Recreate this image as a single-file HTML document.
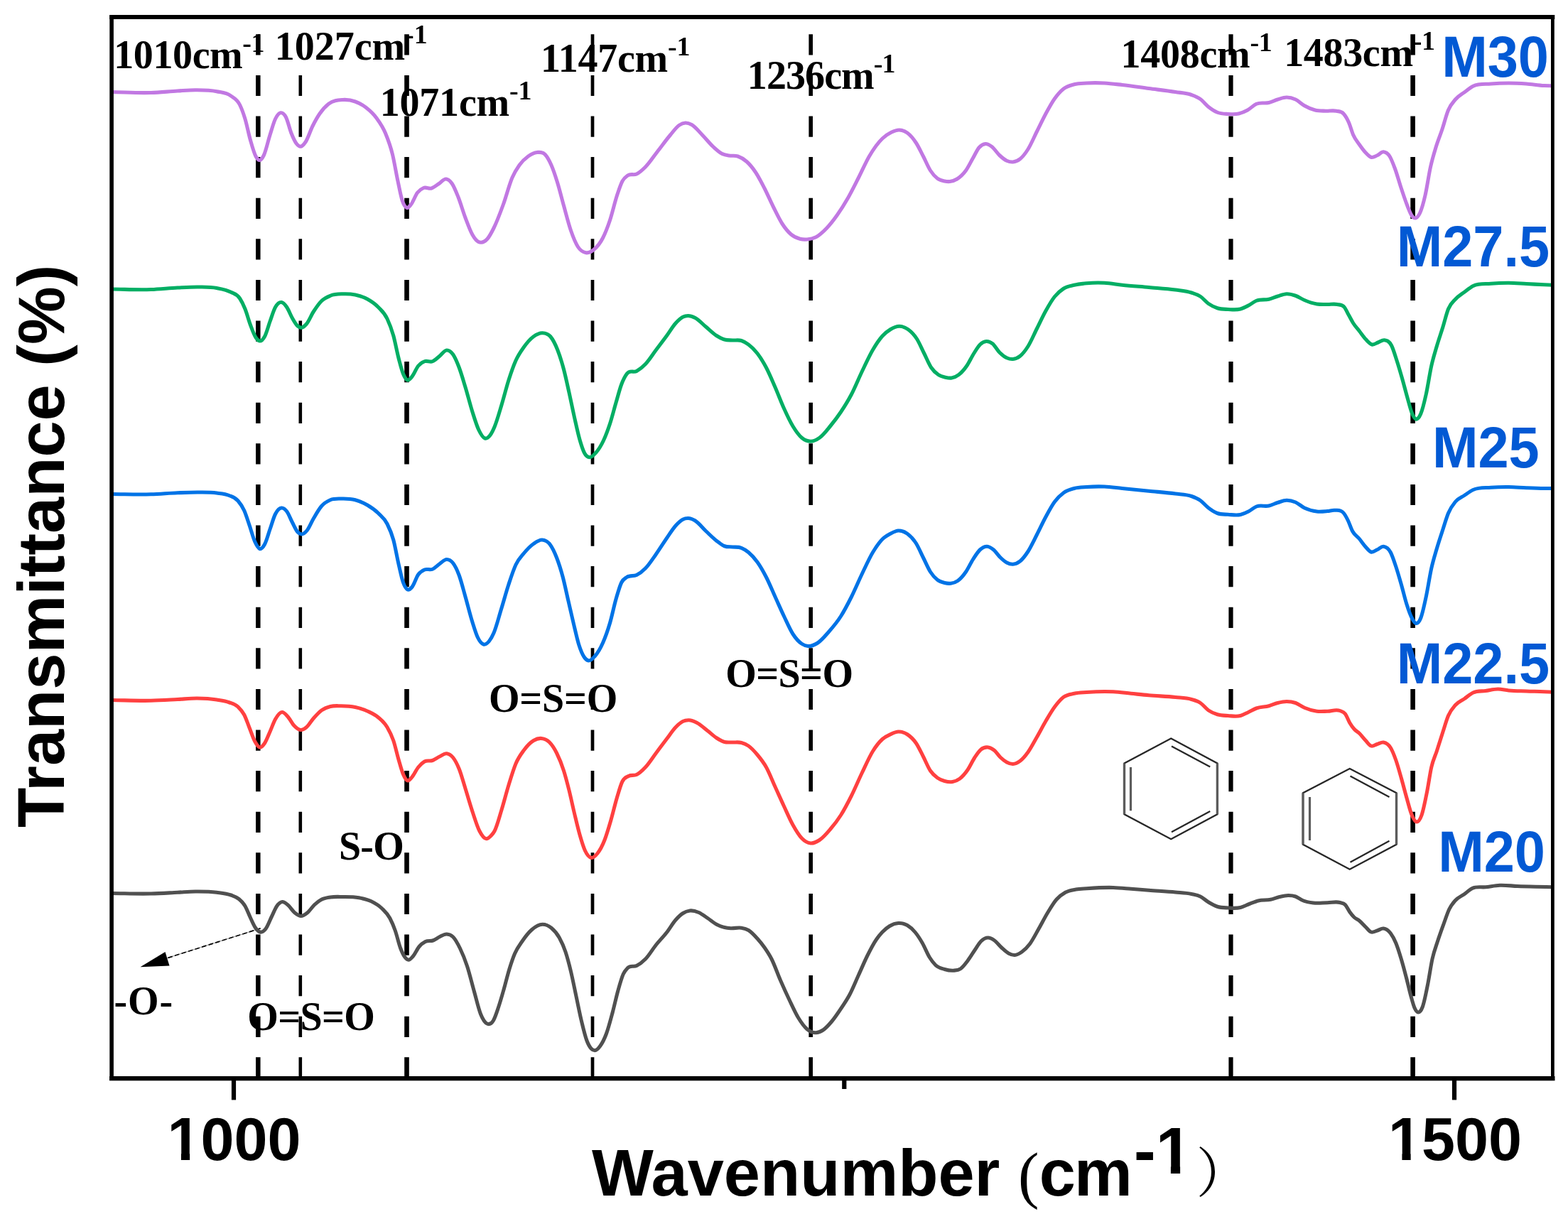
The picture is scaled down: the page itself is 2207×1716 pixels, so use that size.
<!DOCTYPE html>
<html lang="en">
<head>
<meta charset="utf-8">
<title>FTIR spectra</title>
<style>
html,body{margin:0;padding:0;background:#fff;}
body{width:2207px;height:1716px;overflow:hidden;}
svg{display:block;}
.sans{font-family:"Liberation Sans",Arial,Helvetica,sans-serif;font-weight:700;}
.serif{font-family:"Liberation Serif","Times New Roman",Times,serif;font-weight:700;}
.serifr{font-family:"Liberation Serif","Times New Roman",Times,serif;font-weight:400;}
.cjk{font-family:"Liberation Serif","Noto Serif CJK SC","Noto Sans CJK SC",serif;font-weight:400;}
</style>
</head>
<body>
<svg width="2207" height="1716" viewBox="0 0 2207 1716">
<rect x="0" y="0" width="2207" height="1716" fill="#ffffff"/>
<defs>
<clipPath id="clipA" clipPathUnits="userSpaceOnUse"><rect x="200.00" y="1550.00" width="35.51" height="100.00"/><rect x="235.51" y="1550.00" width="45.99" height="73.68"/><rect x="254.93" y="1622.68" width="12.19" height="11.92"/><rect x="281.50" y="1550.00" width="178.50" height="100.00"/></clipPath>
<clipPath id="clipB" clipPathUnits="userSpaceOnUse"><rect x="1920.00" y="1550.00" width="34.01" height="100.00"/><rect x="1954.01" y="1550.00" width="45.99" height="73.68"/><rect x="1973.43" y="1622.68" width="12.19" height="11.92"/><rect x="2000.00" y="1550.00" width="180.00" height="100.00"/></clipPath>
<clipPath id="clipC" clipPathUnits="userSpaceOnUse"><rect x="800.00" y="1560.00" width="826.73" height="156.00"/><rect x="1626.73" y="1560.00" width="50.17" height="81.81"/><rect x="1647.90" y="1640.81" width="13.22" height="12.69"/><rect x="1676.90" y="1560.00" width="123.10" height="156.00"/></clipPath>
</defs>
<g id="guides" stroke="#000" fill="none">
<line x1="363.3" y1="48.3" x2="363.3" y2="1518.0" stroke-width="6.5" stroke-dasharray="29.2 28.4"/>
<line x1="422.8" y1="48.3" x2="422.8" y2="1518.0" stroke-width="4.6" stroke-dasharray="29.2 28.4"/>
<line x1="572.5" y1="48.3" x2="572.5" y2="1518.0" stroke-width="6.6" stroke-dasharray="29.2 28.4"/>
<line x1="834.0" y1="48.3" x2="834.0" y2="1518.0" stroke-width="4.7" stroke-dasharray="29.2 28.4"/>
<line x1="1141.2" y1="48.3" x2="1141.2" y2="1518.0" stroke-width="5.6" stroke-dasharray="29.2 28.4"/>
<line x1="1732.5" y1="48.3" x2="1732.5" y2="1518.0" stroke-width="6.2" stroke-dasharray="29.2 28.4"/>
<line x1="1988.6" y1="48.3" x2="1988.6" y2="1518.0" stroke-width="6.6" stroke-dasharray="29.2 28.4"/>
</g>
<g id="rings">
<path d="M1648.25,1039.50 L1713.40,1074.50 L1713.40,1146.25 L1648.25,1181.25 L1582.50,1146.25 L1582.50,1074.50Z" fill="none" stroke="#262626" stroke-width="2.3" stroke-linejoin="miter"/>
<line x1="1713.40" y1="1074.50" x2="1713.40" y2="1146.25" stroke="#5c5c5c" stroke-width="3.4"/>
<line x1="1582.50" y1="1074.50" x2="1582.50" y2="1146.25" stroke="#5c5c5c" stroke-width="3.4"/>
<line x1="1649.00" y1="1050.50" x2="1703.25" y2="1079.50" stroke="#262626" stroke-width="2.3"/>
<line x1="1703.25" y1="1142.00" x2="1649.00" y2="1171.25" stroke="#262626" stroke-width="2.3"/>
<line x1="1591.50" y1="1080.00" x2="1591.50" y2="1141.25" stroke="#5c5c5c" stroke-width="3.2"/>
<path d="M1899.75,1082.00 L1965.50,1116.25 L1965.50,1188.75 L1899.75,1223.75 L1834.00,1188.75 L1834.00,1116.25Z" fill="none" stroke="#262626" stroke-width="2.3" stroke-linejoin="miter"/>
<line x1="1965.50" y1="1116.25" x2="1965.50" y2="1188.75" stroke="#5c5c5c" stroke-width="3.4"/>
<line x1="1834.00" y1="1116.25" x2="1834.00" y2="1188.75" stroke="#5c5c5c" stroke-width="3.4"/>
<line x1="1900.50" y1="1092.50" x2="1955.50" y2="1122.00" stroke="#262626" stroke-width="2.3"/>
<line x1="1955.50" y1="1183.75" x2="1900.50" y2="1213.75" stroke="#262626" stroke-width="2.3"/>
<line x1="1843.50" y1="1122.00" x2="1843.50" y2="1183.00" stroke="#5c5c5c" stroke-width="3.2"/>
</g>
<g id="arrow">
<line x1="366.6" y1="1306.9" x2="228" y2="1351" stroke="#000" stroke-width="1.0" stroke-opacity="0.45"/>
<line x1="366.6" y1="1306.9" x2="228" y2="1351" stroke="#000" stroke-width="1.7" stroke-dasharray="6.6 3.4"/>
<path d="M197.5,1361.3 L232.5,1340 L238.5,1359.5 Z" fill="#000"/>
</g>
<g id="curves" fill="none" stroke-width="5.1" stroke-linejoin="round" stroke-linecap="butt">
<path d="M157.00,129.50C175.50,129.83 194.00,131.10 212.50,130.50C225.00,130.09 237.50,128.71 250.00,128.00C258.33,127.53 266.67,126.72 275.00,126.75C285.00,126.78 295.00,126.61 305.00,128.75C311.67,130.18 318.33,130.10 325.00,135.00C329.17,138.06 333.33,138.99 337.50,147.50C340.00,152.60 342.50,159.17 345.00,167.50C347.50,175.83 350.00,188.75 352.50,197.50C355.00,206.25 357.50,215.35 360.00,220.00C361.67,223.10 363.33,225.28 365.00,225.50C367.08,225.77 369.17,222.91 371.25,218.75C374.17,212.92 377.08,199.13 380.00,190.00C382.50,182.17 385.00,172.71 387.50,167.50C390.00,162.29 392.50,159.17 395.00,158.75C397.50,158.33 400.00,160.21 402.50,165.00C405.00,169.79 407.50,181.25 410.00,187.50C412.50,193.75 415.00,199.40 417.50,202.50C419.33,204.77 421.17,206.27 423.00,206.25C425.33,206.22 427.67,203.39 430.00,200.00C433.33,195.16 436.67,184.17 440.00,177.50C443.33,170.83 446.67,164.87 450.00,160.00C454.17,153.91 458.33,149.53 462.50,146.25C469.17,141.00 475.83,140.89 482.50,140.50C488.33,140.16 494.17,140.89 500.00,143.00C505.00,144.81 510.00,147.38 515.00,151.25C520.00,155.12 525.00,159.34 530.00,166.25C534.17,172.01 538.33,177.41 542.50,187.50C545.83,195.57 549.17,203.69 552.50,217.50C555.00,227.86 557.50,243.32 560.00,255.00C562.08,264.73 564.17,276.25 566.25,282.50C568.33,288.75 570.42,291.67 572.50,292.50C574.58,293.33 576.67,290.08 578.75,287.50C581.67,283.88 584.58,275.08 587.50,271.25C590.42,267.42 593.33,265.71 596.25,264.50C600.00,262.95 603.75,266.16 607.50,265.00C610.83,263.97 614.17,260.86 617.50,258.75C621.00,256.53 624.50,251.45 628.00,252.00C630.75,252.44 633.50,254.49 636.25,258.50C639.17,262.76 642.08,270.18 645.00,277.50C648.33,285.87 651.67,297.67 655.00,306.50C658.33,315.33 661.67,324.70 665.00,330.50C667.83,335.43 670.67,339.09 673.50,340.50C674.73,341.11 675.97,341.28 677.20,341.25C680.13,341.18 683.07,339.55 686.00,336.25C689.00,332.88 692.00,327.03 695.00,321.00C699.50,311.96 704.00,299.88 708.50,287.50C712.67,276.04 716.83,259.61 721.00,250.00C724.33,242.31 727.67,237.22 731.00,232.50C735.17,226.60 739.33,223.00 743.50,220.00C747.67,217.00 751.83,214.78 756.00,214.50C759.75,214.24 763.50,213.45 767.25,217.50C770.17,220.65 773.08,225.83 776.00,232.50C778.92,239.17 781.83,248.00 784.75,257.50C787.67,267.00 790.58,279.05 793.50,289.50C796.83,301.45 800.17,314.83 803.50,324.50C806.83,334.17 810.17,342.29 813.50,347.50C817.25,353.36 821.00,355.12 824.75,355.75C828.50,356.38 832.25,354.35 836.00,351.25C840.17,347.81 844.33,343.19 848.50,335.00C851.83,328.44 855.17,320.00 858.50,310.00C861.83,300.00 865.17,285.08 868.50,275.00C871.00,267.44 873.50,259.67 876.00,255.00C878.50,250.33 881.00,248.82 883.50,247.00C887.67,243.97 891.83,247.00 896.00,245.00C900.17,243.00 904.33,239.18 908.50,235.00C914.33,229.15 920.17,220.00 926.00,212.50C931.83,205.00 937.67,196.87 943.50,190.00C947.67,185.09 951.83,179.05 956.00,176.25C958.92,174.29 961.83,173.12 964.75,173.00C967.67,172.88 970.58,173.93 973.50,175.50C978.50,178.18 983.50,184.88 988.50,190.00C993.50,195.12 998.50,201.61 1003.50,206.25C1007.67,210.12 1011.83,214.13 1016.00,216.25C1019.33,217.94 1022.67,218.37 1026.00,219.00C1030.17,219.78 1034.33,218.58 1038.50,220.00C1042.67,221.42 1046.83,223.75 1051.00,227.50C1055.17,231.25 1059.33,236.25 1063.50,242.50C1067.67,248.75 1071.83,256.88 1076.00,265.00C1080.17,273.12 1084.33,282.92 1088.50,291.25C1092.67,299.58 1096.83,308.54 1101.00,315.00C1105.17,321.46 1109.33,326.46 1113.50,330.00C1117.67,333.54 1121.83,335.15 1126.00,336.25C1129.33,337.13 1132.67,337.25 1136.00,337.00C1140.17,336.69 1144.33,335.92 1148.50,333.75C1153.50,331.15 1158.50,326.46 1163.50,321.25C1168.50,316.04 1173.50,309.58 1178.50,302.50C1183.50,295.42 1188.50,287.50 1193.50,278.75C1198.50,270.00 1203.50,259.79 1208.50,250.00C1213.50,240.21 1218.50,228.55 1223.50,220.00C1229.67,209.46 1235.83,200.94 1242.00,195.00C1246.17,190.99 1250.33,188.27 1254.50,186.25C1258.25,184.44 1262.00,182.88 1265.75,183.00C1269.50,183.12 1273.25,184.27 1277.00,187.00C1281.17,190.03 1285.33,194.80 1289.50,201.25C1292.83,206.41 1296.17,213.54 1299.50,220.00C1302.83,226.46 1306.17,234.79 1309.50,240.00C1312.83,245.21 1316.17,248.75 1319.50,251.25C1322.83,253.75 1326.17,254.34 1329.50,255.00C1332.00,255.50 1334.50,255.78 1337.00,255.50C1340.33,255.13 1343.67,254.07 1347.00,252.00C1351.17,249.41 1355.33,245.83 1359.50,240.00C1362.83,235.34 1366.17,228.27 1369.50,222.50C1372.42,217.45 1375.33,210.83 1378.25,207.50C1381.17,204.17 1384.08,202.71 1387.00,202.50C1389.92,202.29 1392.83,204.13 1395.75,206.25C1399.50,208.98 1403.25,215.30 1407.00,218.75C1410.33,221.82 1413.67,224.73 1417.00,226.25C1419.92,227.58 1422.83,228.27 1425.75,228.00C1429.08,227.69 1432.42,226.42 1435.75,223.75C1439.50,220.75 1443.25,215.96 1447.00,210.00C1451.17,203.37 1455.33,193.33 1459.50,185.00C1463.67,176.67 1467.83,167.71 1472.00,160.00C1476.17,152.29 1480.33,144.58 1484.50,138.75C1488.67,132.92 1492.83,128.29 1497.00,125.00C1502.00,121.05 1507.00,120.10 1512.00,118.75C1517.83,117.17 1523.67,117.34 1529.50,117.00C1537.83,116.51 1546.17,116.58 1554.50,117.00C1562.83,117.42 1571.17,118.56 1579.50,119.50C1592.00,120.92 1604.50,122.83 1617.00,124.50C1629.50,126.17 1642.00,127.49 1654.50,129.50C1662.00,130.71 1669.50,130.71 1677.00,133.50C1681.17,135.05 1685.33,136.47 1689.50,139.50C1693.33,142.29 1697.17,147.45 1701.00,150.50C1705.17,153.81 1709.33,156.56 1713.50,158.25C1718.50,160.28 1723.50,160.21 1728.50,160.50C1733.50,160.79 1738.50,161.17 1743.50,160.00C1747.67,159.03 1751.83,157.29 1756.00,155.00C1760.17,152.71 1764.33,148.12 1768.50,146.25C1774.33,143.62 1780.17,145.97 1786.00,144.50C1790.17,143.45 1794.33,141.25 1798.50,140.00C1802.67,138.75 1806.83,137.00 1811.00,137.00C1815.17,137.00 1819.33,138.04 1823.50,140.00C1827.67,141.96 1831.83,146.37 1836.00,148.75C1841.00,151.61 1846.00,153.75 1851.00,155.00C1856.00,156.25 1861.00,156.04 1866.00,156.25C1871.00,156.46 1876.00,155.12 1881.00,156.25C1884.33,157.00 1887.67,156.29 1891.00,160.00C1893.50,162.78 1896.00,166.79 1898.50,172.50C1900.58,177.26 1902.67,185.23 1904.75,190.00C1907.67,196.67 1910.58,199.58 1913.50,203.75C1916.42,207.92 1919.33,211.96 1922.25,215.00C1924.75,217.61 1927.25,220.46 1929.75,221.25C1932.67,222.17 1935.58,220.00 1938.50,218.75C1941.42,217.50 1944.33,213.54 1947.25,213.75C1950.17,213.96 1953.08,215.37 1956.00,220.00C1958.50,223.97 1961.00,230.73 1963.50,237.50C1966.42,245.40 1969.33,256.25 1972.25,265.00C1975.17,273.75 1978.08,282.78 1981.00,290.00C1983.08,295.15 1985.17,300.96 1987.25,303.75C1988.92,305.98 1990.58,307.23 1992.25,307.00C1994.33,306.72 1996.42,304.43 1998.50,300.00C2001.00,294.68 2003.50,285.83 2006.00,275.00C2008.50,264.17 2011.00,246.25 2013.50,235.00C2016.00,223.75 2018.50,215.73 2021.00,207.50C2023.92,197.90 2026.83,191.25 2029.75,182.50C2032.67,173.75 2035.58,161.93 2038.50,155.00C2041.83,147.08 2045.17,143.96 2048.50,140.00C2052.67,135.05 2056.83,133.12 2061.00,130.00C2065.17,126.88 2069.33,123.38 2073.50,121.25C2081.83,117.00 2090.17,118.71 2098.50,118.00C2106.83,117.29 2115.17,117.00 2123.50,117.00C2131.83,117.00 2140.17,117.42 2148.50,118.00C2156.83,118.58 2165.17,120.11 2173.50,120.50C2177.33,120.68 2181.17,120.67 2185.00,120.75" stroke="#c178e2"/>
<path d="M157.00,407.00C175.50,407.17 194.00,408.17 212.50,407.50C225.00,407.05 237.50,405.60 250.00,405.00C260.00,404.52 270.00,403.82 280.00,404.00C288.33,404.15 296.67,403.95 305.00,405.50C311.67,406.74 318.33,407.64 325.00,411.25C329.17,413.51 333.33,413.70 337.50,420.00C340.00,423.78 342.50,428.75 345.00,435.00C347.50,441.25 350.00,450.83 352.50,457.50C355.00,464.17 357.50,471.22 360.00,475.00C361.83,477.77 363.67,479.79 365.50,480.00C367.83,480.27 370.17,478.02 372.50,473.75C375.00,469.18 377.50,459.38 380.00,452.50C382.50,445.62 385.00,437.01 387.50,432.50C390.42,427.24 393.33,425.11 396.25,425.50C398.75,425.83 401.25,428.83 403.75,432.50C406.25,436.17 408.75,443.12 411.25,447.50C413.75,451.88 416.25,456.50 418.75,458.75C420.42,460.25 422.08,461.19 423.75,461.25C426.25,461.33 428.75,459.08 431.25,456.25C434.58,452.48 437.92,443.93 441.25,438.75C445.00,432.92 448.75,427.45 452.50,423.75C456.67,419.64 460.83,417.96 465.00,416.25C470.83,413.86 476.67,413.96 482.50,413.75C488.33,413.54 494.17,413.75 500.00,415.00C505.83,416.25 511.67,417.93 517.50,421.25C522.50,424.09 527.50,427.25 532.50,432.50C536.67,436.88 540.83,439.87 545.00,448.75C547.92,454.97 550.83,462.04 553.75,472.50C556.25,481.47 558.75,495.44 561.25,505.00C563.33,512.97 565.42,521.20 567.50,526.25C569.42,530.89 571.33,534.08 573.25,535.00C575.50,536.08 577.75,532.62 580.00,530.00C582.92,526.60 585.83,518.54 588.75,515.00C591.67,511.46 594.58,509.92 597.50,508.75C601.25,507.24 605.00,510.24 608.75,508.75C612.08,507.43 615.42,503.88 618.75,501.25C622.08,498.62 625.42,493.12 628.75,493.00C631.67,492.90 634.58,494.67 637.50,498.75C640.42,502.83 643.33,509.79 646.25,517.50C649.17,525.21 652.08,535.35 655.00,545.00C658.33,556.03 661.67,569.48 665.00,580.00C667.92,589.21 670.83,598.83 673.75,605.00C676.67,611.17 679.58,616.10 682.50,617.00C685.00,617.77 687.50,615.83 690.00,612.50C692.00,609.84 694.00,605.72 696.00,601.00C699.33,593.13 702.67,581.00 706.00,570.00C709.33,559.00 712.67,545.42 716.00,535.00C719.33,524.58 722.67,514.97 726.00,507.50C729.75,499.10 733.50,494.03 737.25,488.75C741.83,482.30 746.42,477.09 751.00,473.75C755.17,470.71 759.33,468.56 763.50,468.75C767.25,468.92 771.00,469.24 774.75,473.75C778.08,477.76 781.42,484.00 784.75,492.50C787.67,499.94 790.58,508.96 793.50,520.00C796.00,529.46 798.50,541.25 801.00,552.50C803.50,563.75 806.00,576.42 808.50,587.50C811.00,598.58 813.50,610.31 816.00,619.00C818.17,626.53 820.33,633.37 822.50,637.50C824.83,641.95 827.17,643.29 829.50,643.75C832.50,644.35 835.50,640.79 838.50,637.50C842.17,633.47 845.83,627.89 849.50,620.00C852.50,613.54 855.50,605.66 858.50,596.50C861.42,587.59 864.33,575.93 867.25,566.00C869.75,557.49 872.25,547.62 874.75,541.00C877.25,534.38 879.75,529.67 882.25,526.25C886.83,519.98 891.42,525.02 896.00,522.50C900.17,520.21 904.33,516.84 908.50,512.50C913.50,507.29 918.50,499.17 923.50,492.50C928.50,485.83 933.50,479.35 938.50,472.50C942.67,466.79 946.83,459.62 951.00,455.00C954.33,451.31 957.67,447.94 961.00,446.25C963.50,444.98 966.00,444.51 968.50,444.50C971.83,444.48 975.17,445.79 978.50,447.50C983.50,450.07 988.50,455.83 993.50,460.00C998.50,464.17 1003.50,469.32 1008.50,472.50C1012.25,474.89 1016.00,476.92 1019.75,478.00C1023.50,479.08 1027.25,478.75 1031.00,479.00C1035.17,479.27 1039.33,478.15 1043.50,479.50C1046.83,480.58 1050.17,482.50 1053.50,485.00C1057.67,488.12 1061.83,492.08 1066.00,497.50C1070.17,502.92 1074.33,509.58 1078.50,517.50C1082.67,525.42 1086.83,535.42 1091.00,545.00C1095.17,554.58 1099.33,565.83 1103.50,575.00C1107.67,584.17 1111.83,593.12 1116.00,600.00C1120.17,606.88 1124.33,612.71 1128.50,616.25C1132.67,619.79 1136.83,621.25 1141.00,621.25C1145.17,621.25 1149.33,619.21 1153.50,616.25C1158.50,612.70 1163.50,606.04 1168.50,600.00C1173.50,593.96 1178.50,587.50 1183.50,580.00C1188.50,572.50 1193.50,564.58 1198.50,555.00C1203.50,545.42 1208.50,532.92 1213.50,522.50C1218.50,512.08 1223.50,501.04 1228.50,492.50C1233.00,484.82 1237.50,477.97 1242.00,473.00C1245.75,468.86 1249.50,466.01 1253.25,463.75C1257.42,461.24 1261.58,459.25 1265.75,459.25C1269.92,459.25 1274.08,460.71 1278.25,463.75C1282.42,466.79 1286.58,470.83 1290.75,477.50C1294.08,482.83 1297.42,490.83 1300.75,497.50C1304.08,504.17 1307.42,512.50 1310.75,517.50C1314.08,522.50 1317.42,525.21 1320.75,527.50C1324.08,529.79 1327.42,530.51 1330.75,531.25C1333.67,531.89 1336.58,532.48 1339.50,532.00C1342.83,531.45 1346.17,530.04 1349.50,527.50C1353.25,524.65 1357.00,520.44 1360.75,515.00C1364.08,510.17 1367.42,502.76 1370.75,497.50C1373.67,492.90 1376.58,487.83 1379.50,485.00C1382.42,482.17 1385.33,480.71 1388.25,480.50C1391.17,480.29 1394.08,481.47 1397.00,483.75C1400.33,486.35 1403.67,492.92 1407.00,496.25C1410.33,499.58 1413.67,502.23 1417.00,503.75C1419.92,505.08 1422.83,505.77 1425.75,505.50C1429.08,505.19 1432.42,503.92 1435.75,501.25C1439.50,498.25 1443.25,493.46 1447.00,487.50C1451.17,480.87 1455.33,470.83 1459.50,462.50C1463.67,454.17 1467.83,445.00 1472.00,437.50C1476.17,430.00 1480.33,422.71 1484.50,417.50C1488.67,412.29 1492.83,408.93 1497.00,406.25C1502.00,403.04 1507.00,402.48 1512.00,401.25C1517.83,399.82 1523.67,399.29 1529.50,398.75C1537.83,397.98 1546.17,397.83 1554.50,398.25C1562.83,398.67 1571.17,400.36 1579.50,401.25C1592.00,402.58 1604.50,403.38 1617.00,404.50C1629.50,405.62 1642.00,406.17 1654.50,408.00C1662.00,409.10 1669.50,409.50 1677.00,412.00C1681.17,413.39 1685.33,414.48 1689.50,417.25C1693.33,419.80 1697.17,424.80 1701.00,427.50C1705.17,430.43 1709.33,432.39 1713.50,433.75C1718.50,435.38 1723.50,435.25 1728.50,435.50C1734.33,435.79 1740.17,436.64 1746.00,435.00C1749.75,433.94 1753.50,431.96 1757.25,430.00C1761.00,428.04 1764.75,424.79 1768.50,423.25C1774.33,420.86 1780.17,422.68 1786.00,421.25C1790.17,420.23 1794.33,418.25 1798.50,417.00C1802.67,415.75 1806.83,413.88 1811.00,413.75C1815.17,413.62 1819.33,414.79 1823.50,416.25C1827.67,417.71 1831.83,420.74 1836.00,422.50C1841.83,424.97 1847.67,427.05 1853.50,428.00C1858.50,428.82 1863.50,428.42 1868.50,428.50C1873.08,428.57 1877.67,427.44 1882.25,428.50C1885.58,429.27 1888.92,428.29 1892.25,432.50C1894.33,435.13 1896.42,440.00 1898.50,443.75C1900.58,447.50 1902.67,451.70 1904.75,455.00C1907.67,459.62 1910.58,462.50 1913.50,466.25C1916.42,470.00 1919.33,474.38 1922.25,477.50C1925.17,480.62 1928.08,484.25 1931.00,485.00C1933.92,485.75 1936.83,483.04 1939.75,482.00C1942.67,480.96 1945.58,478.31 1948.50,478.75C1951.83,479.26 1955.17,479.78 1958.50,486.25C1961.00,491.10 1963.50,499.79 1966.00,507.50C1968.50,515.21 1971.00,523.75 1973.50,532.50C1976.00,541.25 1978.50,551.20 1981.00,560.00C1983.08,567.34 1985.17,576.20 1987.25,581.25C1989.17,585.89 1991.08,589.40 1993.00,590.00C1995.25,590.70 1997.50,587.72 1999.75,582.50C2002.25,576.70 2004.75,566.25 2007.25,555.00C2009.75,543.75 2012.25,526.25 2014.75,515.00C2017.25,503.75 2019.75,496.06 2022.25,487.50C2025.17,477.51 2028.08,469.47 2031.00,460.00C2033.50,451.89 2036.00,441.24 2038.50,435.00C2041.83,426.69 2045.17,424.98 2048.50,421.25C2052.67,416.59 2056.83,414.38 2061.00,411.25C2065.17,408.12 2069.33,404.62 2073.50,402.50C2081.83,398.25 2090.17,399.96 2098.50,399.25C2106.83,398.54 2115.17,398.21 2123.50,398.25C2131.83,398.29 2140.17,399.08 2148.50,399.50C2156.83,399.92 2165.17,400.37 2173.50,400.75C2177.33,400.92 2181.17,401.08 2185.00,401.25" stroke="#03ae64"/>
<path d="M157.00,695.50C175.50,695.58 194.00,696.31 212.50,695.75C225.00,695.37 237.50,694.22 250.00,693.75C260.00,693.37 270.00,692.90 280.00,693.00C288.33,693.09 296.67,692.88 305.00,694.00C310.83,694.78 316.67,694.97 322.50,697.50C326.67,699.31 330.83,700.12 335.00,705.00C337.92,708.42 340.83,712.18 343.75,718.75C346.25,724.38 348.75,732.71 351.25,740.00C353.75,747.29 356.25,757.00 358.75,762.50C361.00,767.45 363.25,771.79 365.50,772.50C367.83,773.24 370.17,770.52 372.50,766.25C375.00,761.68 377.50,752.08 380.00,745.00C382.50,737.92 385.00,728.72 387.50,723.75C390.42,717.95 393.33,715.30 396.25,715.00C398.75,714.74 401.25,716.67 403.75,720.00C406.25,723.33 408.75,730.21 411.25,735.00C413.75,739.79 416.25,745.96 418.75,748.75C420.58,750.80 422.42,751.86 424.25,752.00C427.00,752.21 429.75,749.71 432.50,746.25C435.42,742.58 438.33,735.03 441.25,730.00C445.00,723.53 448.75,716.81 452.50,712.50C456.67,707.71 460.83,705.56 465.00,703.75C470.00,701.58 475.00,702.15 480.00,702.00C486.67,701.81 493.33,701.95 500.00,703.75C505.83,705.32 511.67,707.74 517.50,711.25C522.50,714.26 527.50,717.52 532.50,722.50C536.67,726.65 540.83,729.14 545.00,737.50C547.92,743.35 550.83,749.21 553.75,760.00C556.25,769.25 558.75,784.24 561.25,795.00C563.33,803.96 565.42,814.17 567.50,820.00C569.58,825.83 571.67,828.96 573.75,830.00C575.83,831.04 577.92,828.72 580.00,826.25C582.92,822.80 585.83,812.79 588.75,808.75C591.67,804.71 594.58,803.35 597.50,802.00C601.25,800.26 605.00,802.86 608.75,801.25C612.08,799.82 615.42,796.04 618.75,793.75C622.08,791.46 625.42,787.46 628.75,787.50C631.67,787.54 634.58,788.75 637.50,792.50C640.42,796.25 643.33,802.08 646.25,810.00C649.17,817.92 652.08,829.77 655.00,840.00C658.33,851.70 661.67,865.40 665.00,876.00C667.50,883.95 670.00,892.36 672.50,897.50C675.17,902.98 677.83,906.17 680.50,907.00C683.17,907.83 685.83,905.78 688.50,902.50C690.67,899.84 692.83,896.01 695.00,891.00C698.50,882.91 702.00,868.92 705.50,857.50C709.00,846.08 712.50,833.12 716.00,822.50C719.33,812.38 722.67,802.08 726.00,795.00C729.75,787.03 733.50,783.59 737.25,779.00C741.83,773.39 746.42,768.72 751.00,765.50C755.00,762.69 759.00,759.69 763.00,760.00C766.67,760.28 770.33,761.40 774.00,766.25C777.17,770.44 780.33,776.82 783.50,785.00C786.42,792.53 789.33,801.46 792.25,812.50C794.75,821.96 797.25,834.17 799.75,845.00C802.25,855.83 804.75,867.08 807.25,877.50C809.75,887.92 812.25,899.58 814.75,907.50C817.25,915.42 819.75,921.26 822.25,925.00C824.33,928.12 826.42,929.65 828.50,930.00C831.42,930.49 834.33,927.05 837.25,923.75C841.00,919.51 844.75,913.50 848.50,905.00C851.83,897.44 855.17,888.37 858.50,877.00C861.42,867.06 864.33,852.52 867.25,842.50C869.75,833.91 872.25,825.00 874.75,820.00C877.25,815.00 879.75,814.31 882.25,812.50C886.83,809.18 891.42,811.80 896.00,809.50C900.17,807.41 904.33,804.25 908.50,800.00C913.50,794.90 918.50,787.08 923.50,780.00C928.50,772.92 933.50,764.73 938.50,757.50C942.67,751.48 946.83,744.62 951.00,740.00C954.33,736.31 957.67,732.94 961.00,731.25C963.50,729.98 966.00,729.46 968.50,729.50C971.83,729.56 975.17,731.01 978.50,733.00C983.50,735.98 988.50,742.79 993.50,747.50C998.50,752.21 1003.50,757.38 1008.50,761.25C1012.25,764.15 1016.00,767.29 1019.75,768.75C1023.50,770.21 1027.25,769.60 1031.00,770.00C1035.17,770.44 1039.33,769.62 1043.50,771.25C1046.83,772.56 1050.17,774.71 1053.50,777.50C1057.67,780.98 1061.83,785.42 1066.00,791.25C1070.17,797.08 1074.33,804.38 1078.50,812.50C1082.67,820.62 1086.83,830.83 1091.00,840.00C1095.17,849.17 1099.33,858.75 1103.50,867.50C1107.67,876.25 1111.83,886.04 1116.00,892.50C1120.17,898.96 1124.33,903.45 1128.50,906.25C1131.42,908.21 1134.33,909.21 1137.25,909.50C1141.83,909.96 1146.42,907.97 1151.00,905.00C1156.00,901.75 1161.00,895.66 1166.00,890.00C1171.83,883.40 1177.67,876.72 1183.50,867.50C1188.50,859.60 1193.50,850.00 1198.50,840.00C1203.50,830.00 1208.50,817.92 1213.50,807.50C1218.50,797.08 1223.50,785.84 1228.50,777.50C1233.00,769.99 1237.50,763.49 1242.00,759.00C1245.75,755.26 1249.50,753.25 1253.25,751.25C1257.00,749.25 1260.75,747.14 1264.50,747.00C1268.67,746.84 1272.83,748.25 1277.00,751.25C1281.17,754.25 1285.33,758.33 1289.50,765.00C1292.83,770.33 1296.17,778.33 1299.50,785.00C1302.83,791.67 1306.17,799.79 1309.50,805.00C1312.83,810.21 1316.17,813.67 1319.50,816.25C1322.83,818.83 1326.17,819.69 1329.50,820.50C1332.42,821.21 1335.33,821.63 1338.25,821.25C1341.58,820.82 1344.92,819.90 1348.25,817.50C1352.00,814.79 1355.75,810.44 1359.50,805.00C1362.83,800.17 1366.17,792.71 1369.50,787.50C1372.83,782.29 1376.17,776.79 1379.50,773.75C1382.83,770.71 1386.17,769.04 1389.50,769.25C1392.42,769.44 1395.33,771.42 1398.25,773.75C1401.58,776.41 1404.92,781.83 1408.25,785.00C1411.17,787.78 1414.08,790.46 1417.00,792.00C1419.92,793.54 1422.83,794.43 1425.75,794.25C1429.08,794.05 1432.42,792.67 1435.75,790.00C1439.50,787.00 1443.25,782.04 1447.00,776.25C1451.17,769.82 1455.33,760.62 1459.50,752.50C1463.67,744.38 1467.83,735.21 1472.00,727.50C1476.17,719.79 1480.33,711.88 1484.50,706.25C1488.67,700.62 1492.83,696.81 1497.00,693.75C1502.00,690.08 1507.00,688.89 1512.00,687.50C1517.83,685.88 1523.67,685.94 1529.50,685.50C1537.83,684.87 1546.17,684.67 1554.50,685.00C1562.83,685.33 1571.17,686.67 1579.50,687.50C1592.00,688.75 1604.50,690.00 1617.00,691.25C1629.50,692.50 1642.00,693.32 1654.50,695.00C1662.00,696.01 1669.50,695.77 1677.00,698.50C1681.17,700.02 1685.33,701.56 1689.50,704.50C1693.33,707.20 1697.17,712.08 1701.00,715.00C1705.17,718.18 1709.33,720.92 1713.50,722.50C1718.50,724.40 1723.50,723.90 1728.50,724.25C1734.33,724.65 1740.17,725.89 1746.00,724.50C1749.75,723.61 1753.50,721.92 1757.25,720.00C1761.00,718.08 1764.75,714.50 1768.50,713.00C1774.33,710.66 1780.17,713.36 1786.00,712.00C1790.17,711.03 1794.33,708.79 1798.50,707.50C1802.67,706.21 1806.83,704.33 1811.00,704.25C1815.17,704.17 1819.33,705.21 1823.50,707.00C1827.67,708.79 1831.83,712.95 1836.00,715.00C1841.83,717.87 1847.67,719.34 1853.50,720.00C1858.50,720.57 1863.50,719.94 1868.50,719.50C1871.83,719.21 1875.17,718.04 1878.50,718.25C1882.67,718.52 1886.83,716.92 1891.00,722.00C1893.08,724.54 1895.17,728.25 1897.25,732.50C1899.33,736.75 1901.42,743.52 1903.50,747.50C1906.83,753.87 1910.17,754.71 1913.50,758.75C1916.42,762.28 1919.33,766.80 1922.25,770.00C1924.75,772.74 1927.25,776.17 1929.75,777.00C1932.67,777.97 1935.58,775.04 1938.50,773.75C1941.42,772.46 1944.33,768.93 1947.25,769.25C1950.58,769.62 1953.92,771.24 1957.25,777.50C1959.75,782.19 1962.25,790.00 1964.75,797.50C1967.25,805.00 1969.75,813.75 1972.25,822.50C1974.75,831.25 1977.25,842.08 1979.75,850.00C1982.25,857.92 1984.75,865.26 1987.25,870.00C1989.17,873.63 1991.08,877.13 1993.00,877.50C1995.25,877.93 1997.50,875.58 1999.75,870.00C2002.25,863.80 2004.75,851.67 2007.25,840.00C2009.75,828.33 2012.25,811.25 2014.75,800.00C2017.25,788.75 2019.75,781.06 2022.25,772.50C2025.17,762.51 2028.08,753.94 2031.00,745.00C2033.50,737.34 2036.00,728.53 2038.50,722.50C2041.83,714.46 2045.17,710.30 2048.50,706.25C2052.67,701.19 2056.83,700.29 2061.00,697.50C2065.17,694.71 2069.33,691.46 2073.50,689.50C2081.83,685.58 2090.17,686.92 2098.50,686.25C2106.83,685.58 2115.17,685.42 2123.50,685.50C2131.83,685.58 2140.17,686.42 2148.50,686.75C2156.83,687.08 2165.17,687.42 2173.50,687.50C2177.33,687.54 2181.17,687.50 2185.00,687.50" stroke="#0073e6"/>
<path d="M157.00,985.50C175.50,985.75 194.00,986.66 212.50,986.25C225.00,985.97 237.50,985.14 250.00,984.50C259.17,984.03 268.33,982.92 277.50,983.00C286.67,983.08 295.83,983.54 305.00,985.00C310.83,985.93 316.67,986.53 322.50,988.75C326.67,990.34 330.83,990.99 335.00,995.00C337.92,997.81 340.83,1000.59 343.75,1006.25C346.25,1011.10 348.75,1018.75 351.25,1025.00C353.75,1031.25 356.25,1039.18 358.75,1043.75C361.00,1047.86 363.25,1051.51 365.50,1052.00C367.83,1052.51 370.17,1049.68 372.50,1046.25C375.00,1042.57 377.50,1035.62 380.00,1030.00C382.50,1024.38 385.00,1016.92 387.50,1012.50C390.67,1006.90 393.83,1002.68 397.00,1002.50C399.67,1002.35 402.33,1005.84 405.00,1008.75C407.92,1011.93 410.83,1018.15 413.75,1021.25C416.83,1024.53 419.92,1027.26 423.00,1027.50C425.75,1027.72 428.50,1025.99 431.25,1023.75C434.58,1021.04 437.92,1015.02 441.25,1011.25C445.00,1007.00 448.75,1002.76 452.50,1000.00C456.67,996.94 460.83,995.59 465.00,994.50C470.00,993.19 475.00,993.71 480.00,993.75C486.67,993.81 493.33,994.06 500.00,995.50C505.83,996.76 511.67,998.53 517.50,1001.25C522.50,1003.58 527.50,1005.67 532.50,1010.00C536.67,1013.60 540.83,1016.61 545.00,1023.75C547.92,1028.75 550.83,1033.86 553.75,1042.50C556.25,1049.91 558.75,1061.47 561.25,1070.00C563.33,1077.11 565.42,1085.15 567.50,1090.00C569.42,1094.46 571.33,1097.83 573.25,1098.75C575.50,1099.83 577.75,1096.23 580.00,1093.75C582.92,1090.53 585.83,1083.62 588.75,1080.00C591.67,1076.38 594.58,1073.67 597.50,1072.00C601.25,1069.85 605.00,1071.83 608.75,1070.50C612.08,1069.32 615.42,1066.62 618.75,1065.00C622.08,1063.38 625.42,1060.29 628.75,1060.75C631.67,1061.15 634.58,1062.62 637.50,1066.25C640.42,1069.88 643.33,1075.21 646.25,1082.50C649.17,1089.79 652.08,1100.69 655.00,1110.00C658.33,1120.64 661.67,1132.50 665.00,1142.50C668.33,1152.50 671.67,1163.60 675.00,1170.00C678.17,1176.08 681.33,1180.50 684.50,1180.75C686.75,1180.93 689.00,1178.61 691.25,1176.25C692.83,1174.59 694.42,1172.94 696.00,1170.00C699.33,1163.81 702.67,1150.83 706.00,1140.00C709.33,1129.17 712.67,1115.83 716.00,1105.00C719.33,1094.17 722.67,1082.91 726.00,1075.00C729.75,1066.10 733.50,1061.38 737.25,1056.25C741.83,1049.99 746.42,1045.23 751.00,1042.50C754.75,1040.26 758.50,1039.08 762.25,1039.50C766.00,1039.92 769.75,1041.16 773.50,1045.00C776.83,1048.41 780.17,1053.33 783.50,1060.00C786.83,1066.67 790.17,1074.44 793.50,1085.00C796.00,1092.92 798.50,1102.50 801.00,1112.50C803.50,1122.50 806.00,1134.58 808.50,1145.00C811.00,1155.42 813.50,1166.25 816.00,1175.00C818.50,1183.75 821.00,1192.14 823.50,1197.50C826.42,1203.75 829.33,1206.88 832.25,1207.50C835.17,1208.12 838.08,1204.91 841.00,1201.25C844.33,1197.06 847.67,1191.00 851.00,1182.50C853.92,1175.06 856.83,1165.00 859.75,1155.00C862.67,1145.00 865.58,1132.21 868.50,1122.50C871.00,1114.18 873.50,1105.03 876.00,1100.00C878.92,1094.13 881.83,1094.13 884.75,1092.50C888.50,1090.40 892.25,1092.34 896.00,1090.50C900.17,1088.45 904.33,1084.43 908.50,1080.00C913.50,1074.68 918.50,1066.67 923.50,1060.00C928.50,1053.33 933.50,1046.58 938.50,1040.00C942.67,1034.52 946.83,1028.07 951.00,1023.75C954.33,1020.30 957.67,1017.14 961.00,1015.50C963.92,1014.07 966.83,1013.65 969.75,1013.75C973.50,1013.88 977.25,1015.58 981.00,1017.50C986.00,1020.06 991.00,1024.86 996.00,1028.75C1000.17,1031.99 1004.33,1036.05 1008.50,1038.75C1012.25,1041.18 1016.00,1043.46 1019.75,1044.50C1023.50,1045.54 1027.25,1044.84 1031.00,1045.00C1035.17,1045.18 1039.33,1044.38 1043.50,1045.50C1046.83,1046.39 1050.17,1047.69 1053.50,1050.00C1057.67,1052.89 1061.83,1057.50 1066.00,1062.50C1070.17,1067.50 1074.33,1072.50 1078.50,1080.00C1082.67,1087.50 1086.83,1098.33 1091.00,1107.50C1095.17,1116.67 1099.33,1126.04 1103.50,1135.00C1107.67,1143.96 1111.83,1153.75 1116.00,1161.25C1120.17,1168.75 1124.33,1175.71 1128.50,1180.00C1132.67,1184.29 1136.83,1186.58 1141.00,1187.00C1145.17,1187.42 1149.33,1185.21 1153.50,1182.50C1158.50,1179.25 1163.50,1173.33 1168.50,1167.50C1173.50,1161.67 1178.50,1155.42 1183.50,1147.50C1188.50,1139.58 1193.50,1130.00 1198.50,1120.00C1203.50,1110.00 1208.50,1097.92 1213.50,1087.50C1218.50,1077.08 1223.50,1065.55 1228.50,1057.50C1233.00,1050.25 1237.50,1044.55 1242.00,1040.50C1245.75,1037.13 1249.50,1035.50 1253.25,1033.75C1257.00,1032.00 1260.75,1030.12 1264.50,1030.00C1268.67,1029.86 1272.83,1031.04 1277.00,1033.75C1281.17,1036.46 1285.33,1040.06 1289.50,1046.25C1292.83,1051.20 1296.17,1058.54 1299.50,1065.00C1302.83,1071.46 1306.17,1080.00 1309.50,1085.00C1312.83,1090.00 1316.17,1092.58 1319.50,1095.00C1322.83,1097.42 1326.17,1098.57 1329.50,1099.50C1333.25,1100.55 1337.00,1101.19 1340.75,1100.50C1344.08,1099.89 1347.42,1098.74 1350.75,1096.25C1354.50,1093.45 1358.25,1089.19 1362.00,1083.75C1365.33,1078.92 1368.67,1071.26 1372.00,1066.25C1374.92,1061.87 1377.83,1057.41 1380.75,1055.00C1384.08,1052.25 1387.42,1051.60 1390.75,1052.00C1393.67,1052.35 1396.58,1053.88 1399.50,1056.25C1402.42,1058.62 1405.33,1063.46 1408.25,1066.25C1411.17,1069.04 1414.08,1071.46 1417.00,1073.00C1419.92,1074.54 1422.83,1075.63 1425.75,1075.50C1429.08,1075.35 1432.42,1073.74 1435.75,1071.25C1439.50,1068.45 1443.25,1063.96 1447.00,1058.75C1451.17,1052.96 1455.33,1044.79 1459.50,1037.50C1463.67,1030.21 1467.83,1022.08 1472.00,1015.00C1476.17,1007.92 1480.33,1000.62 1484.50,995.00C1488.67,989.38 1492.83,984.38 1497.00,981.25C1502.00,977.49 1507.00,977.38 1512.00,976.25C1517.83,974.93 1523.67,974.93 1529.50,974.50C1542.00,973.57 1554.50,973.10 1567.00,973.75C1575.33,974.18 1583.67,975.42 1592.00,976.25C1600.33,977.08 1608.67,978.01 1617.00,978.75C1629.50,979.87 1642.00,980.11 1654.50,981.50C1662.00,982.33 1669.50,982.21 1677.00,984.50C1681.17,985.77 1685.33,986.72 1689.50,989.50C1693.33,992.06 1697.17,997.33 1701.00,1000.00C1705.17,1002.90 1709.33,1004.48 1713.50,1005.75C1718.50,1007.27 1723.50,1007.19 1728.50,1007.50C1734.33,1007.87 1740.17,1009.08 1746.00,1007.50C1749.75,1006.49 1753.50,1004.25 1757.25,1002.50C1761.00,1000.75 1764.75,998.39 1768.50,997.00C1774.33,994.84 1780.17,995.36 1786.00,993.75C1790.17,992.60 1794.33,990.54 1798.50,989.50C1802.67,988.46 1806.83,987.50 1811.00,987.50C1815.17,987.50 1819.33,988.04 1823.50,989.50C1827.67,990.96 1831.83,994.44 1836.00,996.25C1841.83,998.78 1847.67,1000.48 1853.50,1001.25C1858.50,1001.91 1863.50,1001.35 1868.50,1001.25C1874.33,1001.13 1880.17,998.12 1886.00,1000.50C1888.50,1001.52 1891.00,1001.59 1893.50,1005.00C1895.58,1007.84 1897.67,1013.96 1899.75,1017.50C1901.83,1021.04 1903.92,1023.87 1906.00,1026.25C1908.50,1029.11 1911.00,1030.06 1913.50,1032.50C1916.42,1035.35 1919.33,1039.39 1922.25,1042.50C1924.75,1045.16 1927.25,1048.98 1929.75,1050.00C1932.67,1051.19 1935.58,1048.33 1938.50,1047.50C1941.42,1046.67 1944.33,1044.42 1947.25,1045.00C1950.58,1045.66 1953.92,1046.98 1957.25,1052.50C1959.75,1056.64 1962.25,1062.92 1964.75,1070.00C1967.25,1077.08 1969.75,1086.25 1972.25,1095.00C1974.75,1103.75 1977.25,1113.75 1979.75,1122.50C1982.25,1131.25 1984.75,1141.70 1987.25,1147.50C1989.50,1152.72 1991.75,1156.89 1994.00,1157.00C1996.33,1157.12 1998.67,1154.02 2001.00,1147.50C2003.50,1140.52 2006.00,1127.56 2008.50,1115.00C2010.58,1104.53 2012.67,1089.20 2014.75,1080.00C2017.25,1068.95 2019.75,1065.16 2022.25,1057.50C2025.17,1048.56 2028.08,1038.94 2031.00,1030.00C2033.50,1022.34 2036.00,1013.39 2038.50,1007.50C2041.83,999.64 2045.17,996.31 2048.50,992.50C2052.67,987.73 2056.83,986.67 2061.00,983.75C2065.17,980.83 2069.33,976.95 2073.50,975.00C2079.33,972.27 2085.17,973.33 2091.00,972.50C2096.83,971.67 2102.67,969.97 2108.50,970.00C2113.50,970.03 2118.50,971.51 2123.50,972.00C2131.83,972.82 2140.17,972.71 2148.50,973.00C2156.83,973.29 2165.17,973.42 2173.50,973.75C2177.33,973.90 2181.17,974.08 2185.00,974.25" stroke="#ff4040"/>
<path d="M157.00,1257.50C175.50,1257.67 194.00,1258.45 212.50,1258.00C225.00,1257.70 237.50,1256.86 250.00,1256.25C258.33,1255.84 266.67,1255.07 275.00,1255.00C285.00,1254.92 295.00,1254.96 305.00,1256.25C311.67,1257.11 318.33,1257.46 325.00,1260.00C328.75,1261.43 332.50,1262.29 336.25,1265.50C339.17,1268.00 342.08,1270.51 345.00,1275.50C347.50,1279.78 350.00,1286.76 352.50,1292.00C354.83,1296.89 357.17,1302.64 359.50,1306.00C361.67,1309.12 363.83,1311.44 366.00,1312.00C368.67,1312.69 371.33,1310.93 374.00,1307.50C376.83,1303.85 379.67,1295.74 382.50,1290.00C385.00,1284.93 387.50,1278.42 390.00,1275.00C392.50,1271.58 395.00,1269.71 397.50,1269.50C400.00,1269.29 402.50,1271.74 405.00,1273.75C408.33,1276.44 411.67,1282.34 415.00,1285.00C417.92,1287.33 420.83,1289.50 423.75,1289.50C426.67,1289.50 429.58,1287.33 432.50,1285.00C435.83,1282.34 439.17,1276.88 442.50,1273.75C445.83,1270.62 449.17,1268.02 452.50,1266.25C456.67,1264.03 460.83,1263.68 465.00,1263.00C470.83,1262.05 476.67,1262.45 482.50,1262.50C490.00,1262.56 497.50,1262.36 505.00,1263.75C510.83,1264.83 516.67,1265.89 522.50,1268.75C527.50,1271.20 532.50,1273.83 537.50,1278.75C541.25,1282.44 545.00,1285.42 548.75,1292.50C551.25,1297.22 553.75,1302.92 556.25,1310.00C558.75,1317.08 561.25,1328.48 563.75,1335.00C565.83,1340.43 567.92,1344.78 570.00,1347.50C571.67,1349.68 573.33,1351.15 575.00,1351.25C577.08,1351.38 579.17,1348.59 581.25,1346.25C584.17,1342.98 587.08,1335.96 590.00,1332.50C592.92,1329.04 595.83,1327.01 598.75,1325.50C602.50,1323.56 606.25,1325.21 610.00,1323.75C612.92,1322.61 615.83,1320.15 618.75,1318.75C622.08,1317.15 625.42,1314.82 628.75,1315.00C631.67,1315.16 634.58,1315.87 637.50,1318.75C640.83,1322.04 644.17,1328.12 647.50,1335.00C650.83,1341.88 654.17,1349.83 657.50,1360.00C660.83,1370.17 664.17,1384.18 667.50,1396.00C670.50,1406.64 673.50,1420.00 676.50,1427.50C679.67,1435.42 682.83,1440.01 686.00,1441.25C688.73,1442.32 691.47,1441.39 694.20,1437.00C696.70,1432.99 699.20,1424.92 701.70,1417.50C704.20,1410.08 706.70,1401.25 709.20,1392.50C711.70,1383.75 714.20,1373.21 716.70,1365.00C719.30,1356.46 721.90,1348.65 724.50,1342.50C728.00,1334.22 731.50,1330.12 735.00,1325.00C739.50,1318.41 744.00,1312.67 748.50,1308.75C753.50,1304.40 758.50,1301.30 763.50,1301.25C767.67,1301.21 771.83,1302.78 776.00,1306.25C779.75,1309.37 783.50,1313.17 787.25,1320.00C790.17,1325.31 793.08,1331.16 796.00,1340.00C798.50,1347.57 801.00,1357.08 803.50,1367.50C806.00,1377.92 808.50,1390.83 811.00,1402.50C813.50,1414.17 816.00,1427.08 818.50,1437.50C821.00,1447.92 823.50,1458.38 826.00,1465.00C828.08,1470.52 830.17,1474.00 832.25,1476.25C833.92,1478.05 835.58,1478.81 837.25,1478.75C839.75,1478.67 842.25,1475.93 844.75,1472.50C847.67,1468.50 850.58,1462.92 853.50,1455.00C856.42,1447.08 859.33,1435.90 862.25,1425.00C864.75,1415.66 867.25,1403.96 869.75,1395.00C872.25,1386.04 874.75,1376.76 877.25,1371.25C879.33,1366.66 881.42,1364.61 883.50,1362.50C887.67,1358.28 891.83,1361.58 896.00,1359.50C900.17,1357.42 904.33,1354.25 908.50,1350.00C913.50,1344.90 918.50,1336.25 923.50,1330.00C928.50,1323.75 933.50,1318.97 938.50,1312.50C942.67,1307.11 946.83,1299.73 951.00,1295.00C954.33,1291.21 957.67,1287.92 961.00,1285.75C964.33,1283.58 967.67,1282.40 971.00,1282.00C975.17,1281.50 979.33,1282.75 983.50,1284.50C987.67,1286.25 991.83,1289.71 996.00,1292.50C1000.17,1295.29 1004.33,1299.04 1008.50,1301.25C1012.25,1303.24 1016.00,1304.58 1019.75,1305.50C1022.67,1306.22 1025.58,1306.52 1028.50,1306.75C1033.50,1307.14 1038.50,1305.34 1043.50,1306.25C1046.83,1306.86 1050.17,1307.51 1053.50,1309.50C1057.67,1311.99 1061.83,1316.62 1066.00,1321.25C1069.33,1324.96 1072.67,1328.96 1076.00,1333.75C1079.33,1338.54 1082.67,1343.44 1086.00,1350.00C1090.17,1358.21 1094.33,1370.42 1098.50,1380.00C1102.67,1389.58 1106.83,1398.75 1111.00,1407.50C1115.17,1416.25 1119.33,1425.62 1123.50,1432.50C1127.67,1439.38 1131.83,1445.21 1136.00,1448.75C1140.17,1452.29 1144.33,1453.88 1148.50,1453.75C1151.83,1453.65 1155.17,1452.18 1158.50,1450.00C1162.67,1447.28 1166.83,1442.50 1171.00,1437.50C1175.17,1432.50 1179.33,1426.25 1183.50,1420.00C1187.67,1413.75 1191.83,1407.92 1196.00,1400.00C1200.17,1392.08 1204.33,1381.67 1208.50,1372.50C1212.67,1363.33 1216.83,1353.33 1221.00,1345.00C1225.17,1336.67 1229.33,1328.60 1233.50,1322.50C1236.33,1318.35 1239.17,1314.97 1242.00,1312.00C1245.33,1308.51 1248.67,1305.78 1252.00,1303.75C1256.17,1301.21 1260.33,1299.71 1264.50,1299.50C1268.67,1299.29 1272.83,1300.08 1277.00,1302.50C1280.75,1304.68 1284.50,1307.95 1288.25,1312.50C1291.58,1316.54 1294.92,1321.67 1298.25,1327.50C1301.58,1333.33 1304.92,1342.10 1308.25,1347.50C1311.17,1352.22 1314.08,1355.99 1317.00,1358.75C1321.17,1362.69 1325.33,1363.25 1329.50,1364.50C1333.67,1365.75 1337.83,1366.57 1342.00,1366.25C1345.33,1365.99 1348.67,1366.04 1352.00,1363.75C1355.33,1361.46 1358.67,1356.88 1362.00,1352.50C1365.33,1348.12 1368.67,1342.37 1372.00,1337.50C1374.92,1333.24 1377.83,1327.90 1380.75,1325.00C1384.08,1321.68 1387.42,1320.02 1390.75,1320.00C1393.67,1319.99 1396.58,1321.72 1399.50,1323.75C1402.83,1326.07 1406.17,1330.71 1409.50,1333.75C1412.83,1336.79 1416.17,1340.21 1419.50,1342.00C1422.42,1343.57 1425.33,1344.67 1428.25,1344.50C1431.58,1344.31 1434.92,1342.36 1438.25,1340.00C1442.00,1337.34 1445.75,1333.74 1449.50,1328.75C1453.67,1323.20 1457.83,1314.79 1462.00,1307.50C1466.17,1300.21 1470.33,1291.88 1474.50,1285.00C1478.67,1278.12 1482.83,1271.04 1487.00,1266.25C1491.17,1261.46 1495.33,1258.60 1499.50,1256.25C1504.50,1253.42 1509.50,1252.92 1514.50,1252.00C1519.50,1251.08 1524.50,1251.10 1529.50,1250.75C1542.00,1249.89 1554.50,1249.14 1567.00,1249.50C1575.33,1249.74 1583.67,1250.62 1592.00,1251.25C1600.33,1251.88 1608.67,1252.61 1617.00,1253.25C1629.50,1254.22 1642.00,1254.79 1654.50,1256.00C1662.00,1256.73 1669.50,1256.85 1677.00,1258.50C1681.17,1259.42 1685.33,1259.93 1689.50,1262.00C1693.33,1263.90 1697.17,1267.69 1701.00,1270.00C1705.17,1272.51 1709.33,1274.89 1713.50,1276.25C1718.50,1277.88 1723.50,1277.75 1728.50,1278.00C1734.33,1278.29 1740.17,1278.93 1746.00,1277.50C1750.17,1276.48 1754.33,1274.08 1758.50,1272.50C1762.67,1270.92 1766.83,1269.05 1771.00,1268.00C1776.83,1266.53 1782.67,1267.51 1788.50,1266.25C1792.67,1265.35 1796.83,1263.46 1801.00,1262.50C1805.17,1261.54 1809.33,1260.45 1813.50,1260.50C1816.83,1260.54 1820.17,1260.83 1823.50,1262.00C1826.83,1263.17 1830.17,1266.09 1833.50,1267.50C1838.50,1269.62 1843.50,1270.36 1848.50,1271.00C1855.17,1271.85 1861.83,1270.84 1868.50,1270.75C1874.33,1270.67 1880.17,1268.76 1886.00,1270.50C1888.50,1271.25 1891.00,1271.08 1893.50,1273.75C1895.58,1275.98 1897.67,1280.83 1899.75,1283.75C1901.83,1286.67 1903.92,1289.26 1906.00,1291.25C1908.50,1293.64 1911.00,1294.20 1913.50,1296.25C1916.42,1298.64 1919.33,1302.19 1922.25,1305.00C1924.75,1307.41 1927.25,1311.01 1929.75,1312.00C1932.67,1313.16 1935.58,1310.83 1938.50,1310.00C1941.42,1309.17 1944.33,1306.61 1947.25,1307.00C1950.58,1307.44 1953.92,1309.29 1957.25,1313.75C1959.75,1317.09 1962.25,1321.46 1964.75,1327.50C1967.25,1333.54 1969.75,1341.67 1972.25,1350.00C1974.75,1358.33 1977.25,1367.88 1979.75,1377.50C1981.83,1385.52 1983.92,1395.03 1986.00,1402.50C1987.67,1408.47 1989.33,1415.00 1991.00,1418.75C1992.67,1422.50 1994.33,1424.73 1996.00,1425.00C1998.08,1425.34 2000.17,1422.97 2002.25,1417.50C2004.75,1410.94 2007.25,1397.56 2009.75,1385.00C2011.83,1374.53 2013.92,1359.52 2016.00,1350.00C2018.50,1338.58 2021.00,1332.78 2023.50,1325.00C2026.42,1315.92 2029.33,1308.03 2032.25,1300.00C2034.75,1293.11 2037.25,1285.24 2039.75,1280.00C2042.67,1273.89 2045.58,1270.79 2048.50,1267.50C2052.67,1262.80 2056.83,1261.74 2061.00,1258.75C2064.75,1256.06 2068.50,1252.35 2072.25,1250.50C2078.50,1247.42 2084.75,1249.43 2091.00,1248.75C2097.67,1248.03 2104.33,1246.56 2111.00,1246.25C2119.33,1245.86 2127.67,1247.17 2136.00,1247.50C2144.33,1247.83 2152.67,1248.04 2161.00,1248.25C2169.00,1248.45 2177.00,1248.58 2185.00,1248.75" stroke="#505050"/>
</g>
<g id="frame" stroke="#000" fill="none" stroke-linecap="square">
<line x1="157.1" y1="24" x2="157.1" y2="1518.2" stroke-width="5.6"/>
<line x1="2185.4" y1="24" x2="2185.4" y2="1518.2" stroke-width="4.8"/>
<line x1="157.1" y1="24" x2="2185.4" y2="24" stroke-width="5.8"/>
<line x1="157.1" y1="1518.2" x2="2185.4" y2="1518.2" stroke-width="6.2"/>
</g>
<g id="ticks" stroke="#000" stroke-width="6.2">
<line x1="329" y1="1518.0" x2="329" y2="1548.4"/>
<line x1="2047" y1="1518.0" x2="2047" y2="1548.4"/>
<line x1="1188.3" y1="1518.0" x2="1188.3" y2="1533"/>
</g>
<g id="peaklabels" class="serif" fill="#000">
<text x="160.2" y="95.8" font-size="56" letter-spacing="-0.39">1010cm<tspan dy="-23" font-size="38">-1</tspan></text>
<text x="386.8" y="84.2" font-size="56" letter-spacing="-0.04">1027cm<tspan dy="-23" font-size="38">-1</tspan></text>
<text x="534.7" y="163.2" font-size="56" letter-spacing="-0.20">1071cm<tspan dy="-23" font-size="38">-1</tspan></text>
<text x="761.0" y="101.3" font-size="56" letter-spacing="-0.24">1147cm<tspan dy="-23" font-size="38">-1</tspan></text>
<text x="1051.8" y="125.2" font-size="56" letter-spacing="-0.91">1236cm<tspan dy="-23" font-size="38">-1</tspan></text>
<text x="1577.5" y="95.4" font-size="56" letter-spacing="-0.26">1408cm<tspan dy="-23" font-size="38">-1</tspan></text>
<text x="1807.2" y="93.1" font-size="56" letter-spacing="-0.33">1483cm<tspan dy="-23" font-size="38">-1</tspan></text>
</g>
<g id="chem" class="serif" fill="#000">
<text x="688.0" y="1001.5" font-size="56" letter-spacing="-0.2">O=S=O</text>
<text x="1021.3" y="967.0" font-size="56" letter-spacing="-0.6">O=S=O</text>
<text x="348.2" y="1450.0" font-size="56" letter-spacing="-0.6">O=S=O</text>
<text x="477.0" y="1210.0" font-size="56" letter-spacing="-0.8">S-O</text>
<text x="160.5" y="1427.5" font-size="56" letter-spacing="0.9">-O-</text>
</g>
<g id="mlabels" class="sans" fill="#0259d4">
<text transform="translate(2029.2,107.7) scale(1,1.06)" x="0" y="0" font-size="77.5">M30</text>
<text transform="translate(1965.7,374.7) scale(1,1.06)" x="0" y="0" font-size="77.5">M27.5</text>
<text transform="translate(2015.9,658.3) scale(1,1.06)" x="0" y="0" font-size="77.5">M25</text>
<text transform="translate(1965.7,962.2) scale(1,1.06)" x="0" y="0" font-size="77.5">M22.5</text>
<text transform="translate(2024.2,1226.7) scale(1,1.06)" x="0" y="0" font-size="77.5">M20</text>
</g>
<g id="ticklabels" class="sans" fill="#000" font-size="84.5" text-anchor="middle">
<text x="329.5" y="1632.6" clip-path="url(#clipA)">1000</text>
<text x="2048" y="1632.6" clip-path="url(#clipB)">1500</text>
</g>
<text id="xtitle" class="sans" fill="#000" font-size="92" x="833.1" y="1682.5" clip-path="url(#clipC)">Wavenumber <tspan class="serifr" font-size="88.5" dy="1.2">(</tspan><tspan dy="-1.2" dx="0.2" letter-spacing="-1.7">cm</tspan><tspan dy="-31" dx="3.9">-1</tspan><tspan class="cjk" dy="26.7" dx="5.7" font-size="76">）</tspan></text>
<text id="ytitle" class="sans" fill="#000" font-size="92" transform="translate(90,1165) rotate(-90)" x="0" y="0">Transmittance (%)</text>
</svg>
</body>
</html>
